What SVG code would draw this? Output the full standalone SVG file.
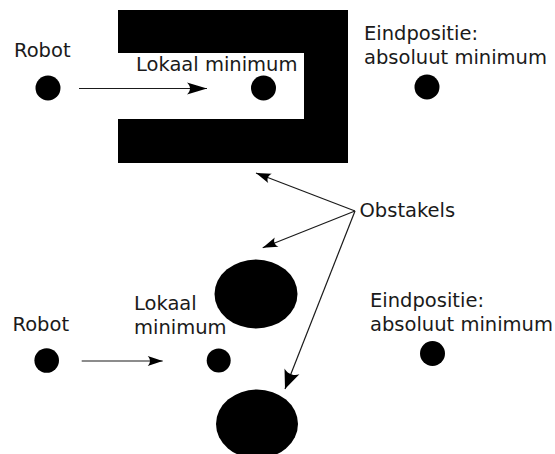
<svg xmlns="http://www.w3.org/2000/svg" width="555" height="454" viewBox="0 0 555 454">
  <style>
    text { font-family: "DejaVu Sans", "Liberation Sans", sans-serif; font-size: 19.5px; fill: #1a1a1a; }
    .dot, .obstacle { fill: #000; }
    .conn { stroke: #1a1a1a; stroke-width: 1.2; fill: none; }
  </style>
  <defs>
    <marker id="headL" markerUnits="userSpaceOnUse" markerWidth="24" markerHeight="16" viewBox="-22 -8 24 16" refX="0" refY="0" orient="auto">
      <path d="M0,0 L-20,-6 C-16,-2 -16,2 -20,6 Z" fill="#000"/>
    </marker>
    <marker id="headM" markerUnits="userSpaceOnUse" markerWidth="24" markerHeight="20" viewBox="-22 -10 24 20" refX="0" refY="0" orient="auto">
      <path d="M0,0 L-19,-8 C-15,-3 -15,3 -19,8 Z" fill="#000"/>
    </marker>
    <marker id="headS" markerUnits="userSpaceOnUse" markerWidth="18" markerHeight="14" viewBox="-17 -7 18 14" refX="0" refY="0" orient="auto">
      <path d="M0,0 L-15,-5 C-12,-1.8 -12,1.8 -15,5 Z" fill="#000"/>
    </marker>
  </defs>

  <!-- upper scene: U-shaped wall -->
  <g id="wall-u">
    <path class="obstacle" d="M118,10 H348 V163 H118 V119 H304 V53 H118 Z"/>
  </g>
  <g id="robot-top">
    <text x="14" y="57">Robot</text>
    <circle class="dot" cx="48" cy="88" r="12.5"/>
  </g>
  <g id="local-min-top">
    <text x="136" y="70.5">Lokaal minimum</text>
    <circle class="dot" cx="263.5" cy="88" r="12.5"/>
  </g>
  <g id="goal-top">
    <text x="364" y="40">Eindpositie:</text>
    <text x="364" y="64">absoluut minimum</text>
    <circle class="dot" cx="427" cy="87" r="12.5"/>
  </g>

  <!-- label for the obstacles -->
  <g id="obstacles-label">
    <text x="359.5" y="217">Obstakels</text>
  </g>

  <!-- lower scene: two round obstacles -->
  <g id="obstacle-upper">
    <ellipse class="obstacle" cx="256" cy="294" rx="41.5" ry="34.5"/>
  </g>
  <g id="obstacle-lower">
    <ellipse class="obstacle" cx="257" cy="424" rx="41" ry="34.5"/>
  </g>
  <g id="robot-bottom">
    <text x="12.5" y="330.7">Robot</text>
    <circle class="dot" cx="46.7" cy="360.5" r="12.3"/>
  </g>
  <g id="local-min-bottom">
    <text x="134" y="310">Lokaal</text>
    <text x="134" y="334.3">minimum</text>
    <circle class="dot" cx="218.7" cy="360.5" r="12"/>
  </g>
  <g id="goal-bottom">
    <text x="370" y="306.7">Eindpositie:</text>
    <text x="370" y="331">absoluut minimum</text>
    <circle class="dot" cx="432.5" cy="353.5" r="12.5"/>
  </g>

  <!-- connectors -->
  <g id="connectors">
    <line class="conn" x1="79" y1="88.5" x2="207" y2="88.5" marker-end="url(#headL)"/>
    <line class="conn" x1="81.7" y1="361" x2="162.7" y2="361" marker-end="url(#headS)"/>
    <line class="conn" x1="355" y1="211" x2="256" y2="173" marker-end="url(#headS)"/>
    <line class="conn" x1="355" y1="211" x2="262.7" y2="247.7" marker-end="url(#headS)"/>
    <line class="conn" x1="355" y1="211" x2="285" y2="389" marker-end="url(#headM)"/>
  </g>
</svg>
